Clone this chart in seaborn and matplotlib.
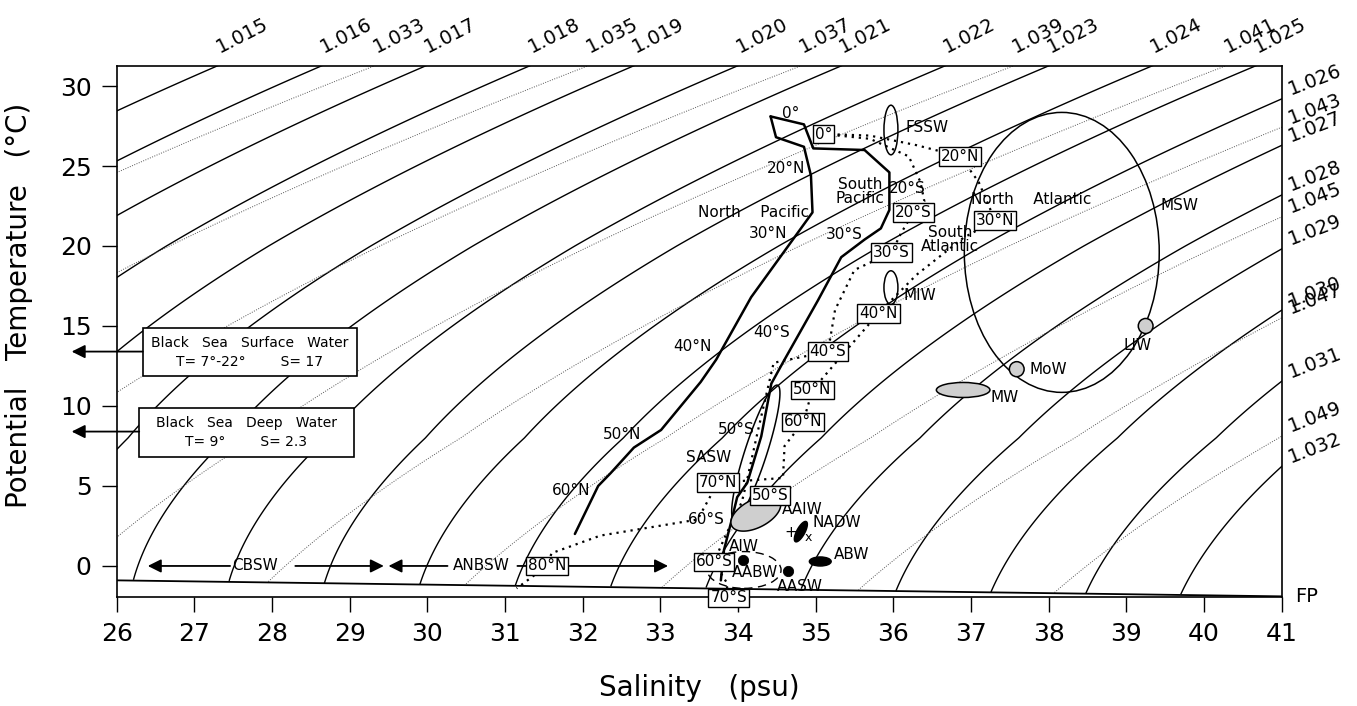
import numpy as np
import matplotlib
matplotlib.use('Agg')
import matplotlib.pyplot as plt
from matplotlib.patches import Ellipse, Polygon, Rectangle
import seaborn as sns

# density levels (sigma = rho - 1000): solid at surface, dotted at 4000 dbar
sig0_levels = list(range(15, 33))
sig4_levels = [33, 35, 37, 39, 41, 43, 45, 47, 49]
# offset of the chart's density scale against EOS-80, read at a few temperatures
off_t = [-2, 8, 20, 32]
off_sig = [0.0, 0.33, 0.40, 0.55]

# freezing point line
fp_s = [26.0, 41.0]
fp_t = [-0.9, -1.9]

# Pacific paths (solid)
np_s = [34.42, 34.49, 34.85, 34.94, 34.96, 34.17, 33.72, 33.52, 33.01, 32.66, 32.36, 32.2, 32.05, 31.9]
np_t = [28.1, 26.8, 26.2, 24.4, 22.1, 16.8, 12.9, 11.5, 8.5, 7.4, 5.8, 5.0, 3.5, 2.0]
sp_s = [34.42, 34.85, 34.97, 35.63, 35.95, 35.95, 35.84, 35.63, 35.33, 35.03, 34.6, 34.43, 34.3, 34.12, 33.99, 33.91, 33.82, 33.78]
sp_t = [28.1, 27.6, 26.1, 26.0, 24.6, 22.25, 21.1, 20.4, 19.3, 16.6, 12.9, 11.4, 8.1, 5.2, 4.3, 2.7, 1.0, -0.9]

# Atlantic paths (dotted)
na_s = [35.1, 35.7, 36.3, 36.86, 37.1, 37.31, 36.9, 36.3, 35.81, 35.4, 34.96, 34.84, 34.6, 34.58, 33.74, 33.48, 32.23, 31.6, 31.54, 31.15]
na_t = [27.0, 26.9, 26.3, 25.6, 24.0, 21.6, 20.5, 18.2, 15.8, 13.5, 11.0, 9.0, 7.5, 5.5, 5.2, 2.9, 1.9, 0.8, 0.0, -1.4]
sa_s = [35.1, 35.7, 36.2, 36.35, 36.4, 36.26, 36.1, 35.98, 35.5, 35.25, 35.16, 34.46, 34.25, 34.1, 34.05, 33.85, 33.69, 33.85, 33.88]
sa_t = [27.0, 26.7, 25.6, 24.0, 22.8, 22.1, 20.8, 19.6, 18.5, 16.0, 13.4, 12.7, 8.3, 5.0, 4.0, 2.0, 0.25, -1.0, -2.0]

# boxed latitude labels on the Atlantic path
box_text = ['0°', '20°N', '30°N', '40°N', '50°N', '60°N', '70°N', '80°N',
            '20°S', '30°S', '40°S', '50°S', '60°S', '70°S']
box_s = [35.1, 36.86, 37.31, 35.81, 34.96, 34.84, 33.74, 31.54,
         36.26, 35.98, 35.16, 34.41, 33.69, 33.88]
box_t = [27.0, 25.6, 21.6, 15.8, 11.0, 9.0, 5.2, 0.0,
         22.1, 19.6, 13.4, 4.4, 0.25, -2.0]

# plain labels
lab_text = ['0°', '20°N', '30°N', '40°N', '50°N', '60°N', '20°S', '30°S', '40°S', '50°S', '60°S',
            'North    Pacific', 'South\nPacific', 'North    Atlantic', 'South\nAtlantic',
            'SASW', 'AAIW', 'AIW', 'AABW', 'AASW', 'LIW', 'CBSW', 'ANBSW']
lab_s = [34.68, 34.62, 34.39, 33.42, 32.51, 31.85, 36.18, 35.37, 34.44, 33.98, 33.59,
         34.2, 35.57, 37.77, 36.73,
         33.62, 34.83, 34.07, 34.22, 34.8, 39.15, 27.78, 30.69]
lab_t = [28.3, 24.85, 20.8, 13.7, 8.2, 4.7, 23.6, 20.7, 14.6, 8.5, 2.9,
         22.1, 23.4, 22.9, 20.4,
         6.8, 3.55, 1.2, -0.4, -1.3, 13.75, 0.0, 0.0]
# left-aligned labels
llab_text = ['FSSW', 'MIW', 'MSW', 'MoW', 'MW', 'NADW', 'ABW']
llab_s = [36.16, 36.13, 39.44, 37.75, 37.25, 34.96, 35.23]
llab_t = [27.4, 16.9, 22.5, 12.3, 10.5, 2.7, 0.7]

# upright water mass ellipses: centre S, centre T, width (psu), height (degC)
ell_s = [35.97, 35.97, 38.17, 39.25, 37.59, 36.9, 35.06]
ell_t = [27.25, 17.4, 19.6, 15.0, 12.3, 11.0, 0.28]
ell_w = [0.18, 0.18, 2.51, 0.19, 0.19, 0.69, 0.28]
ell_h = [3.1, 2.1, 17.5, 0.94, 0.94, 0.94, 0.56]
ell_fill = ['none', 'none', 'none', '#cfcfcf', '#cfcfcf', '#cfcfcf', 'black']

# tilted ellipses (SASW, AAIW, NADW): axis end points
tilt_s1 = [34.51, 33.92, 34.74]
tilt_t1 = [11.3, 2.5, 1.52]
tilt_s2 = [33.95, 34.54, 34.88]
tilt_t2 = [2.9, 4.05, 2.77]

# single water mass points (AIW, AABW)
dot_s = [34.06, 34.64]
dot_t = [0.375, -0.3]


def eos80(s, t, p=0.0):
    t2, t3, t4, t5 = t**2, t**3, t**4, t**5
    rw = (999.842594 + 6.793952e-2*t - 9.095290e-3*t2 + 1.001685e-4*t3
          - 1.120083e-6*t4 + 6.536332e-9*t5)
    r0 = (rw + s*(0.824493 - 4.0899e-3*t + 7.6438e-5*t2 - 8.2467e-7*t3 + 5.3875e-9*t4)
          + s**1.5*(-5.72466e-3 + 1.0227e-4*t - 1.6546e-6*t2) + 4.8314e-4*s**2)
    if p == 0:
        return r0
    kw = 19652.21 + 148.4206*t - 2.327105*t2 + 1.360477e-2*t3 - 5.155288e-5*t4
    k0 = (kw + s*(54.6746 - 0.603459*t + 1.09987e-2*t2 - 6.1670e-5*t3)
          + s**1.5*(7.944e-2 + 1.6483e-2*t - 5.3009e-4*t2))
    a = (3.239908 + 1.43713e-3*t + 1.16092e-4*t2 - 5.77905e-7*t3
         + s*(2.2838e-3 - 1.0981e-5*t - 1.6078e-6*t2) + 1.91075e-4*s**1.5)
    b = (8.50935e-5 - 6.12293e-6*t + 5.2787e-8*t2
         + s*(-9.9348e-7 + 2.0816e-8*t + 9.1697e-10*t2))
    k = k0 + a*p + b*p**2
    return r0 / (1 - p/k)


def sigma(s, t, p=0.0):
    return eos80(s, t, p) - 1000 - np.interp(t, off_t, off_sig)


sns.set_style('ticks')
plt.rcParams['font.family'] = ['DejaVu Sans']
plt.rcParams['text.color'] = 'black'
plt.rcParams['axes.labelcolor'] = 'black'
plt.rcParams['xtick.color'] = 'black'
plt.rcParams['ytick.color'] = 'black'

fig = plt.figure(figsize=(13.57, 7.06), dpi=100)
ax = fig.add_axes([0.086, 0.1544, 0.8584, 0.7521])
ax.set_xlim(26, 41)
ax.set_ylim(-1.94, 31.25)

# density field
S, T = np.meshgrid(np.linspace(25.5, 41.5, 500), np.linspace(-2.6, 32, 500))
below_fp = T < np.interp(S, fp_s, fp_t)
sig0 = np.ma.masked_where(below_fp, sigma(S, T))
sig4 = np.ma.masked_where(below_fp, sigma(S, T, 400.0))
ax.contour(S, T, sig0, levels=sig0_levels, colors='black', linewidths=1.0, zorder=1)
ax.contour(S, T, sig4, levels=sig4_levels, colors='#555555', linewidths=0.7,
           linestyles=[(0, (1, 1.5))], zorder=1)

# contour labels along top and right edges
t_top = ax.get_ylim()[1]
s_fine = np.linspace(25, 42, 4000)
t_fine = np.linspace(-1, t_top, 4000)
for levels, p in [(sig0_levels, 0.0), (sig4_levels, 400.0)]:
    top_row = sigma(s_fine, t_top, p)
    right_col = sigma(41.0, t_fine, p)
    for lev in levels:
        lab = f'{1 + lev / 1000:.3f}'
        s_hit = np.interp(lev, top_row, s_fine)
        if s_hit <= 41:
            ax.annotate(lab, (s_hit, t_top), xytext=(3, 7), textcoords='offset points',
                        rotation=27, rotation_mode='anchor', ha='left', va='bottom',
                        fontsize=14, annotation_clip=False)
        else:
            t_hit = np.interp(lev, right_col[::-1], t_fine[::-1])
            ax.annotate(lab, (41, t_hit), xytext=(8, 0), textcoords='offset points',
                        rotation=21, rotation_mode='anchor', ha='left', va='bottom',
                        fontsize=14, annotation_clip=False)

# freezing point
sns.lineplot(x=fp_s, y=fp_t, color='black', lw=1.3, ax=ax, zorder=2)
ax.annotate('FP', (41, fp_t[-1]), xytext=(10, 0), textcoords='offset points',
            ha='left', va='center', fontsize=14, annotation_clip=False)

# Pacific and Atlantic paths
sns.lineplot(x=np_s, y=np_t, sort=False, estimator=None, color='black', lw=1.8, ax=ax, zorder=3)
sns.lineplot(x=sp_s, y=sp_t, sort=False, estimator=None, color='black', lw=1.8, ax=ax, zorder=3)
sns.lineplot(x=na_s, y=na_t, sort=False, estimator=None, color='black', lw=1.6,
             linestyle=(0, (1, 2.2)), ax=ax, zorder=3)
sns.lineplot(x=sa_s, y=sa_t, sort=False, estimator=None, color='black', lw=1.6,
             linestyle=(0, (1, 2.2)), ax=ax, zorder=3)

# water mass ellipses
for s0, t0, w, h, fc in zip(ell_s, ell_t, ell_w, ell_h, ell_fill):
    ax.add_patch(Ellipse((s0, t0), w, h, facecolor=fc, edgecolor='black', lw=1.1, zorder=3))

half_w = [11, 14, 4]
tilt_fill = ['none', '#cfcfcf', 'black']
for s1, t1, s2, t2, hw, fc in zip(tilt_s1, tilt_t1, tilt_s2, tilt_t2, half_w, tilt_fill):
    a = ax.transData.transform([(s1, t1), (s2, t2)])
    c = a.mean(axis=0)
    u = (a[1] - a[0]) / 2
    v = np.array([-u[1], u[0]]) / np.hypot(*u) * hw
    th = np.linspace(0, 2 * np.pi, 120)
    pts = c + np.outer(np.cos(th), u) + np.outer(np.sin(th), v)
    ax.add_patch(Polygon(ax.transData.inverted().transform(pts), closed=True,
                         facecolor=fc, edgecolor='black', lw=1.1, zorder=3))

# dashed region around AIW / AABW
ax.add_patch(Ellipse((34.08, -0.25), 0.95, 2.3, facecolor='none', edgecolor='black',
                     lw=1.0, ls=(0, (6, 4)), zorder=3))

sns.scatterplot(x=dot_s, y=dot_t, s=55, color='black', edgecolor='black', ax=ax, zorder=4)
ax.text(34.68, 2.1, '+', fontsize=11, ha='center', va='center', zorder=4)
ax.text(34.9, 1.75, 'x', fontsize=9, ha='center', va='center', zorder=4)

# text labels
for txt, s0, t0 in zip(lab_text, lab_s, lab_t):
    ax.text(s0, t0, txt, ha='center', va='center', fontsize=11, linespacing=0.95, zorder=4)
for txt, s0, t0 in zip(llab_text, llab_s, llab_t):
    ax.text(s0, t0, txt, ha='left', va='center', fontsize=11, zorder=4)

# Black Sea arrows at 0 degC
arrow = dict(arrowstyle='-|>', color='black', lw=1.3, mutation_scale=20, shrinkA=0, shrinkB=0)
ax.annotate('', xy=(26.4, 0), xytext=(27.46, 0), arrowprops=arrow, zorder=4)
ax.annotate('', xy=(29.44, 0), xytext=(28.3, 0), arrowprops=arrow, zorder=4)
ax.annotate('', xy=(29.5, 0), xytext=(30.26, 0), arrowprops=arrow, zorder=4)
ax.annotate('', xy=(33.1, 0), xytext=(31.16, 0), arrowprops=arrow, zorder=4)

for txt, s0, t0 in zip(box_text, box_s, box_t):
    ax.text(s0, t0, txt, ha='center', va='center', fontsize=11, zorder=6, clip_on=False,
            bbox=dict(boxstyle='square,pad=0.12', fc='white', ec='black', lw=1.0))

# Black Sea boxes
for (s1, s2, t1, t2), l1, l2, ta in [
        ((26.335, 29.09, 11.9, 14.86), 'Black   Sea   Surface   Water', 'T= 7°-22°        S= 17', 13.4),
        ((26.29, 29.05, 6.83, 9.86), 'Black   Sea   Deep   Water', 'T= 9°        S= 2.3', 8.4)]:
    ax.add_patch(Rectangle((s1, t1), s2 - s1, t2 - t1, facecolor='white', edgecolor='black',
                           lw=1.2, zorder=5))
    ax.text((s1 + s2) / 2, t2 - 0.95, l1, ha='center', va='center', fontsize=10, zorder=6)
    ax.text((s1 + s2) / 2, t2 - 2.1, l2, ha='center', va='center', fontsize=10, zorder=6)
    ax.annotate('', xy=(25.42, ta), xytext=(s1, ta), arrowprops=arrow,
                annotation_clip=False, zorder=6)

ax.set_xticks(range(26, 42))
ax.set_yticks(range(0, 31, 5))
ax.tick_params(axis='both', direction='out', length=11, width=1.0, labelsize=18, pad=7)
for sp in ax.spines.values():
    sp.set_visible(True)
    sp.set_linewidth(1.2)
    sp.set_color('black')

ax.set_xlabel('Salinity   (psu)', fontsize=20)
ax.set_ylabel('Potential   Temperature   (°C)', fontsize=20)
ax.xaxis.set_label_coords(0.5, -0.145)
ax.yaxis.set_label_coords(-0.072, 0.55)

fig.savefig('out.png', dpi=100, facecolor='white')
